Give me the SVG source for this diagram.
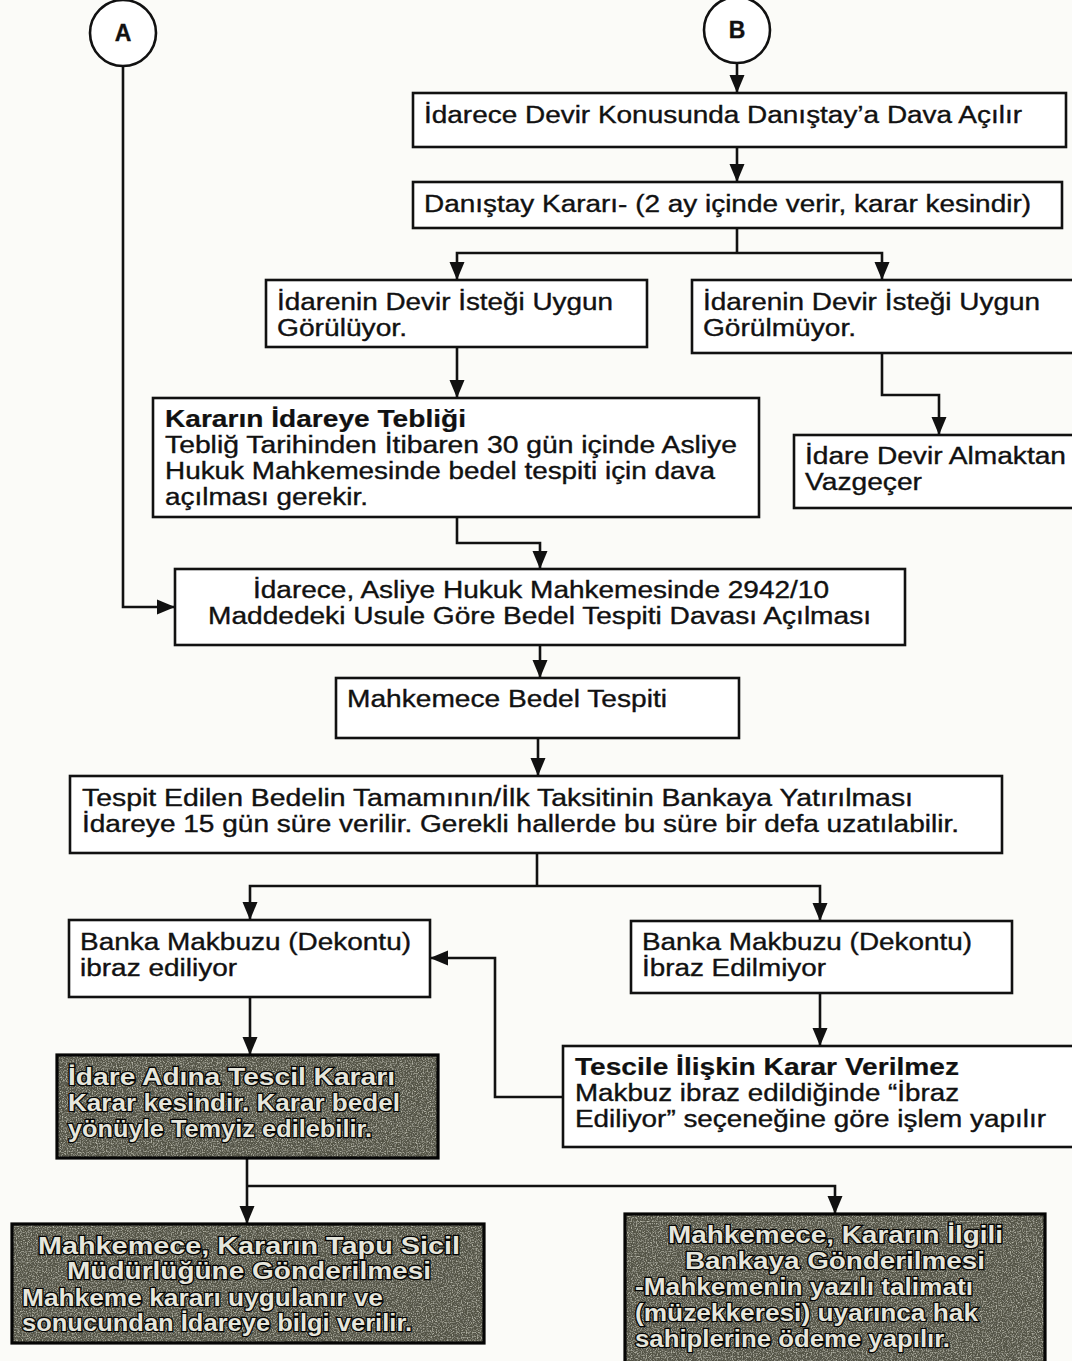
<svg xmlns="http://www.w3.org/2000/svg" width="1072" height="1361" viewBox="0 0 1072 1361">
  <defs>
    <style>
      .box { fill: #ffffff; stroke: #111111; stroke-width: 2.6; }
      .shade { fill: #4a4a3d; stroke: none; }
      .frame { fill: none; stroke: #050505; stroke-width: 3.2; }
      .circ { fill: #ffffff; stroke: #111111; stroke-width: 2.6; }
      .wire { fill: none; stroke: #111111; stroke-width: 2.6; }
      .arr { fill: none; stroke: #111111; stroke-width: 2.6; marker-end: url(#head); }
      text { font-family: "Liberation Sans", Arial, sans-serif; font-size: 23px; fill: #111111; stroke: #111111; stroke-width: 0.35; }
      .b { font-weight: bold; stroke-width: 0.2; }
      .lbl { font-weight: bold; font-size: 23px; }
      .inv { font-weight: bold; fill: #e6e6dc; stroke: #050505; stroke-width: 2.4; paint-order: stroke; }
    </style>
    <marker id="head" viewBox="0 0 18 18" refX="18" refY="9" markerWidth="18" markerHeight="18" markerUnits="userSpaceOnUse" orient="auto">
      <path d="M0,1.5 L18,9 L0,16.5 Z" fill="#111111"/>
    </marker>
    <!-- speckled print texture for the shaded boxes -->
    <filter id="grain" x="0" y="0" width="1" height="1">
      <feTurbulence type="fractalNoise" baseFrequency="0.8" numOctaves="2" seed="7" result="n"/>
      <feColorMatrix in="n" type="matrix" values="0 0 0 0 0.1  0 0 0 0 0.1  0 0 0 0 0.07  0 0 0 3 -1.15" result="darkspots"/>
      <feColorMatrix in="n" type="matrix" values="0 0 0 0 0.5  0 0 0 0 0.5  0 0 0 0 0.42  0 0 0 -2.5 1.35" result="lightspots"/>
      <feMerge result="spots">
        <feMergeNode in="darkspots"/>
        <feMergeNode in="lightspots"/>
      </feMerge>
      <feComposite in="spots" in2="SourceGraphic" operator="atop"/>
    </filter>
  </defs>

  <rect width="1072" height="1361" fill="#fbfbf8"/>

  <!-- connectors -->
  <g id="connectors">
    <path class="arr" d="M123,66 V607 H175"/>
    <path class="arr" d="M737,63 V93"/>
    <path class="arr" d="M737,147 V182"/>
    <path class="wire" d="M737,228 V253"/>
    <path class="arr" d="M737,253 H457 V280"/>
    <path class="arr" d="M737,253 H882 V280"/>
    <path class="arr" d="M457,347 V398"/>
    <path class="arr" d="M882,353 V395 H939 V435"/>
    <path class="arr" d="M457,517 V543 H540 V569"/>
    <path class="arr" d="M540,645 V678"/>
    <path class="arr" d="M538,738 V776"/>
    <path class="wire" d="M537,853 V886"/>
    <path class="arr" d="M537,886 H250 V920"/>
    <path class="arr" d="M537,886 H820 V921"/>
    <path class="arr" d="M250,997 V1055"/>
    <path class="arr" d="M820,993 V1046"/>
    <path class="arr" d="M563,1097 H495 V958 H430"/>
    <path class="arr" d="M247,1158 V1224"/>
    <path class="arr" d="M247,1186 H835 V1214"/>
  </g>

  <!-- entry points -->
  <g id="node-a">
    <circle class="circ" cx="123" cy="33" r="33"/>
    <text class="lbl" x="123" y="41" text-anchor="middle">A</text>
  </g>
  <g id="node-b">
    <circle class="circ" cx="737" cy="30" r="33"/>
    <text class="lbl" x="737" y="38" text-anchor="middle">B</text>
  </g>

  <g id="dava-acilir">
    <rect class="box" x="413" y="93" width="653" height="54"/>
    <text x="424" y="123" textLength="598" lengthAdjust="spacingAndGlyphs">İdarece Devir Konusunda Danıştay’a Dava Açılır</text>
  </g>

  <g id="danistay-karari">
    <rect class="box" x="413" y="182" width="649" height="46"/>
    <text x="424" y="212" textLength="607" lengthAdjust="spacingAndGlyphs">Danıştay Kararı- (2 ay içinde verir, karar kesindir)</text>
  </g>

  <g id="uygun">
    <rect class="box" x="266" y="280" width="381" height="67"/>
    <text x="277" y="310" textLength="336" lengthAdjust="spacingAndGlyphs">İdarenin Devir İsteği Uygun</text>
    <text x="277" y="336" textLength="130" lengthAdjust="spacingAndGlyphs">Görülüyor.</text>
  </g>

  <g id="uygun-degil">
    <rect class="box" x="692" y="280" width="390" height="73"/>
    <text x="703" y="310" textLength="337" lengthAdjust="spacingAndGlyphs">İdarenin Devir İsteği Uygun</text>
    <text x="703" y="336" textLength="153" lengthAdjust="spacingAndGlyphs">Görülmüyor.</text>
  </g>

  <g id="teblig">
    <rect class="box" x="153" y="398" width="606" height="119"/>
    <text class="b" x="165" y="427" textLength="301" lengthAdjust="spacingAndGlyphs">Kararın İdareye Tebliği</text>
    <text x="165" y="453" textLength="572" lengthAdjust="spacingAndGlyphs">Tebliğ Tarihinden İtibaren 30 gün içinde Asliye</text>
    <text x="165" y="479" textLength="550" lengthAdjust="spacingAndGlyphs">Hukuk Mahkemesinde bedel tespiti için dava</text>
    <text x="165" y="505" textLength="203" lengthAdjust="spacingAndGlyphs">açılması gerekir.</text>
  </g>

  <g id="vazgecer">
    <rect class="box" x="794" y="435" width="288" height="73"/>
    <text x="805" y="464" textLength="261" lengthAdjust="spacingAndGlyphs">İdare Devir Almaktan</text>
    <text x="805" y="490" textLength="117" lengthAdjust="spacingAndGlyphs">Vazgeçer</text>
  </g>

  <g id="tespit-davasi">
    <rect class="box" x="175" y="569" width="730" height="76"/>
    <text x="253" y="598" textLength="576" lengthAdjust="spacingAndGlyphs">İdarece, Asliye Hukuk Mahkemesinde 2942/10</text>
    <text x="208" y="624" textLength="663" lengthAdjust="spacingAndGlyphs">Maddedeki Usule Göre Bedel Tespiti Davası Açılması</text>
  </g>

  <g id="bedel-tespiti">
    <rect class="box" x="336" y="678" width="403" height="60"/>
    <text x="347" y="707" textLength="320" lengthAdjust="spacingAndGlyphs">Mahkemece Bedel Tespiti</text>
  </g>

  <g id="yatirilmasi">
    <rect class="box" x="70" y="776" width="932" height="77"/>
    <text x="82" y="806" textLength="831" lengthAdjust="spacingAndGlyphs">Tespit Edilen Bedelin Tamamının/İlk Taksitinin Bankaya Yatırılması</text>
    <text x="82" y="832" textLength="877" lengthAdjust="spacingAndGlyphs">İdareye 15 gün süre verilir. Gerekli hallerde bu süre bir defa uzatılabilir.</text>
  </g>

  <g id="ibraz-ediliyor">
    <rect class="box" x="69" y="920" width="361" height="77"/>
    <text x="80" y="950" textLength="331" lengthAdjust="spacingAndGlyphs">Banka Makbuzu (Dekontu)</text>
    <text x="80" y="976" textLength="157" lengthAdjust="spacingAndGlyphs">ibraz ediliyor</text>
  </g>

  <g id="ibraz-edilmiyor">
    <rect class="box" x="631" y="921" width="381" height="72"/>
    <text x="642" y="950" textLength="330" lengthAdjust="spacingAndGlyphs">Banka Makbuzu (Dekontu)</text>
    <text x="642" y="976" textLength="184" lengthAdjust="spacingAndGlyphs">İbraz Edilmiyor</text>
  </g>

  <g id="karar-verilmez">
    <rect class="box" x="563" y="1046" width="519" height="101"/>
    <text class="b" x="575" y="1075" textLength="384" lengthAdjust="spacingAndGlyphs">Tescile İlişkin Karar Verilmez</text>
    <text x="575" y="1101" textLength="384" lengthAdjust="spacingAndGlyphs">Makbuz ibraz edildiğinde “İbraz</text>
    <text x="575" y="1127" textLength="471" lengthAdjust="spacingAndGlyphs">Ediliyor” seçeneğine göre işlem yapılır</text>
  </g>

  <g id="tescil-karari">
    <rect class="shade" x="57" y="1055" width="381" height="103" filter="url(#grain)"/>
    <rect class="frame" x="57" y="1055" width="381" height="103"/>
    <text class="inv" x="68" y="1085" textLength="327" lengthAdjust="spacingAndGlyphs">İdare Adına Tescil Kararı</text>
    <text class="inv" x="68" y="1111" textLength="332" lengthAdjust="spacingAndGlyphs">Karar kesindir. Karar bedel</text>
    <text class="inv" x="68" y="1137" textLength="304" lengthAdjust="spacingAndGlyphs">yönüyle Temyiz edilebilir.</text>
  </g>

  <g id="tapu-sicil">
    <rect class="shade" x="12" y="1224" width="472" height="119" filter="url(#grain)"/>
    <rect class="frame" x="12" y="1224" width="472" height="119"/>
    <text class="inv" x="38" y="1254" textLength="422" lengthAdjust="spacingAndGlyphs">Mahkemece, Kararın  Tapu Sicil</text>
    <text class="inv" x="67" y="1279" textLength="364" lengthAdjust="spacingAndGlyphs">Müdürlüğüne Gönderilmesi</text>
    <text class="inv" x="22" y="1306" textLength="361" lengthAdjust="spacingAndGlyphs">Mahkeme kararı uygulanır ve</text>
    <text class="inv" x="22" y="1331" textLength="390" lengthAdjust="spacingAndGlyphs">sonucundan İdareye bilgi verilir.</text>
  </g>

  <g id="banka-gonderim">
    <rect class="shade" x="625" y="1214" width="420" height="152" filter="url(#grain)"/>
    <rect class="frame" x="625" y="1214" width="420" height="152"/>
    <text class="inv" x="668" y="1243" textLength="335" lengthAdjust="spacingAndGlyphs">Mahkemece, Kararın İlgili</text>
    <text class="inv" x="685" y="1269" textLength="300" lengthAdjust="spacingAndGlyphs">Bankaya Gönderilmesi</text>
    <text class="inv" x="635" y="1295" textLength="338" lengthAdjust="spacingAndGlyphs">-Mahkemenin yazılı talimatı</text>
    <text class="inv" x="635" y="1321" textLength="343" lengthAdjust="spacingAndGlyphs">(müzekkeresi) uyarınca hak</text>
    <text class="inv" x="635" y="1347" textLength="315" lengthAdjust="spacingAndGlyphs">sahiplerine ödeme yapılır.</text>
  </g>
</svg>
